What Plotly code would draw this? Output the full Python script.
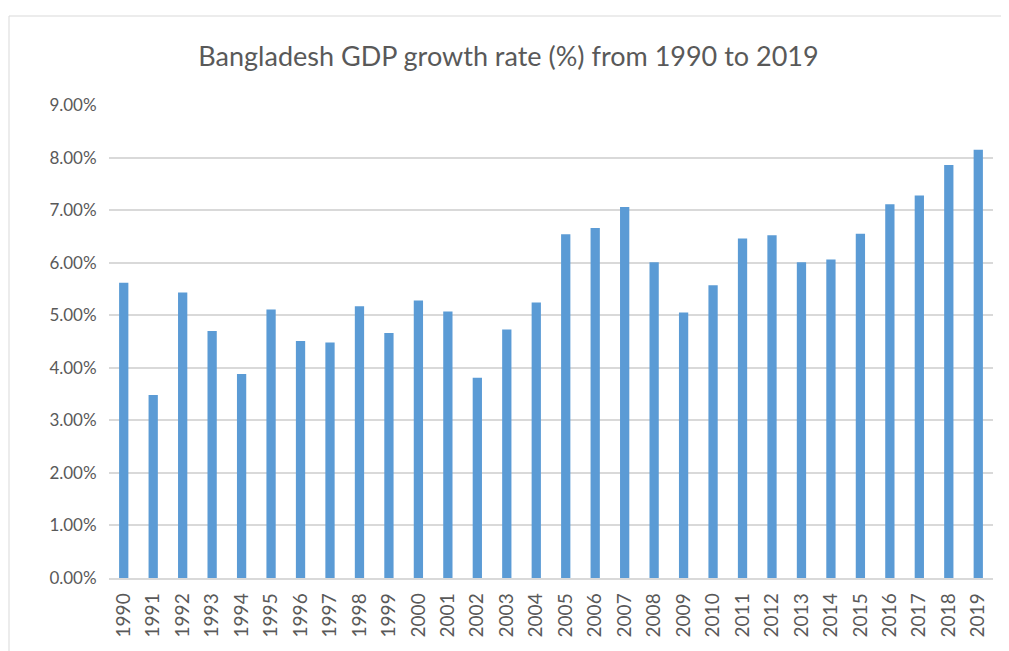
import plotly.graph_objects as go

years = [str(y) for y in range(1990, 2020)]
growth = [
    5.62, 3.48, 5.43, 4.70, 3.88, 5.11, 4.51, 4.48, 5.17, 4.66,
    5.28, 5.07, 3.81, 4.73, 5.24, 6.54, 6.66, 7.06, 6.01, 5.05,
    5.57, 6.46, 6.52, 6.01, 6.06, 6.55, 7.11, 7.28, 7.86, 8.15,
]
y_ticks = [0, 1, 2, 3, 4, 5, 6, 7, 8, 9]
y_labels = [f"{v:.2f}%" for v in y_ticks]

FONT = "Lato, Liberation Sans, sans-serif"
TEXT = "#595959"
GRID = "#D9D9D9"

# page has an 8px body margin, so figure coords = page coords - 8
W, H = 1001, 643
L, R, T, B = 101, 16, 97, 73
pw, ph = W - L - R, H - T - B


def px_x(x):
    return (x - 8 - L) / pw


def px_y(y):
    return (H - B - (y - 8)) / ph


fig = go.Figure(
    go.Bar(
        x=years,
        y=growth,
        marker_color="#5B9BD5",
        marker_line_width=0,
    )
)

fig.update_layout(
    width=W,
    height=H,
    margin=dict(l=L, r=R, t=T, b=B),
    paper_bgcolor="white",
    plot_bgcolor="white",
    font=dict(family=FONT, color=TEXT),
    bargap=0.685,
    showlegend=False,
    title=dict(
        text="Bangladesh GDP growth rate (%) from 1990 to 2019",
        font=dict(size=27, color=TEXT, family=FONT),
        x=0.5,
        xanchor="center",
        y=1 - 49 / H,
        yanchor="middle",
    ),
    xaxis=dict(
        type="category",
        tickangle=-90,
        tickfont=dict(size=19, color=TEXT),
        showgrid=False,
        showline=True,
        linecolor=GRID,
        linewidth=1.5,
        ticks="outside",
        ticklen=6,
        tickcolor="white",
    ),
    yaxis=dict(
        range=[0, 9],
        tickvals=y_ticks,
        ticktext=y_labels,
        tickfont=dict(size=17, color=TEXT),
        gridcolor=GRID,
        gridwidth=1.5,
        zeroline=False,
        showline=False,
        ticks="outside",
        ticklen=8,
        tickcolor="white",
    ),
    shapes=[
        dict(
            type="rect",
            xref="paper",
            yref="paper",
            x0=px_x(9),
            x1=px_x(1003),
            y0=px_y(680),
            y1=px_y(16),
            line=dict(color="#D9D9D9", width=1),
            fillcolor="rgba(0,0,0,0)",
            layer="below",
        )
    ],
)

fig.write_html("out.html")
